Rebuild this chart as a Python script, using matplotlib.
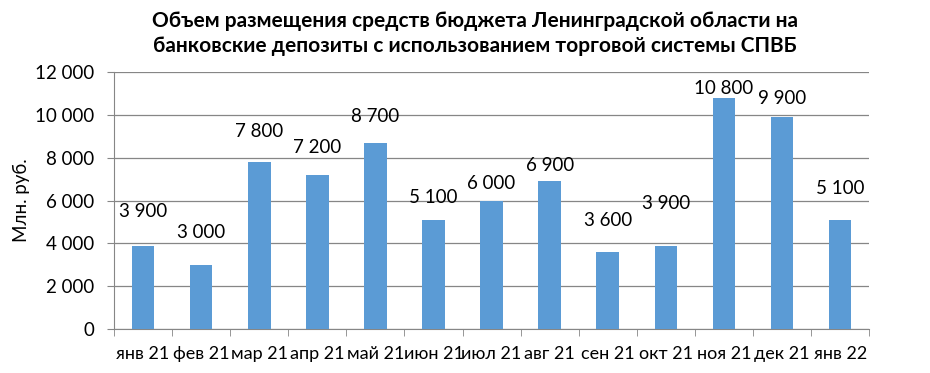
import numpy as np
import matplotlib.pyplot as plt
from matplotlib.ticker import FuncFormatter, FixedLocator

plt.rcParams['font.family'] = ['Lato', 'DejaVu Sans']

months = ["янв 21", "фев 21", "мар 21", "апр 21", "май 21", "июн 21", "июл 21",
          "авг 21", "сен 21", "окт 21", "ноя 21", "дек 21", "янв 22"]
values = [3900, 3000, 7800, 7200, 8700, 5100, 6000, 6900, 3600, 3900, 10800, 9900, 5100]

# label offset above bar top, in pixels (as placed in the original)
label_offsets = [34, 32, 31, 28, 26, 22, 17, 16, 31, 42, 10, 19, 31]

title = ("Объем размещения средств бюджета Ленинградской области на\n"
         "банковские депозиты с использованием торговой системы СПВБ")

fig = plt.figure(figsize=(9.3, 3.73), dpi=100)
ax = fig.add_axes([0.1226, 0.118, 0.812, 0.688])

x = np.arange(len(months))
bars = ax.bar(x, values, width=0.39, color="#5B9BD5", zorder=3)

for xi, v, off in zip(x, values, label_offsets):
    ax.annotate(f"{v:,}".replace(",", " "), (xi, v), xytext=(0, off),
                textcoords="offset pixels", ha="center", va="center",
                fontsize=13.5, color="black", zorder=4)

ax.set_xlim(-0.5, len(months) - 0.5)
ax.set_ylim(0, 12000)
ax.set_yticks(range(0, 12001, 2000))
ax.yaxis.set_major_formatter(FuncFormatter(lambda v, p: f"{int(v):,}".replace(",", " ")))
ax.set_xticks(x)
ax.set_xticklabels(months)
ax.xaxis.set_minor_locator(FixedLocator(np.arange(-0.5, len(months), 1.0)))
ax.tick_params(axis="x", which="major", length=0, pad=12, labelsize=13)
ax.tick_params(axis="x", which="minor", length=5, color="#868686")
ax.tick_params(axis="y", length=5, color="#868686", labelsize=13.5, pad=9)

ax.grid(True, axis="y", color="#868686", linewidth=0.9, zorder=0)
for s in ["top", "right"]:
    ax.spines[s].set_visible(False)
for s in ["left", "bottom"]:
    ax.spines[s].set_color("#868686")

ax.set_ylabel("Млн. руб.", fontsize=13.5, labelpad=4)
fig.text(0.511, 0.91, title, ha="center", va="center", fontsize=15,
         fontweight="bold", linespacing=1.35)

fig.savefig("out.png", dpi=100)
